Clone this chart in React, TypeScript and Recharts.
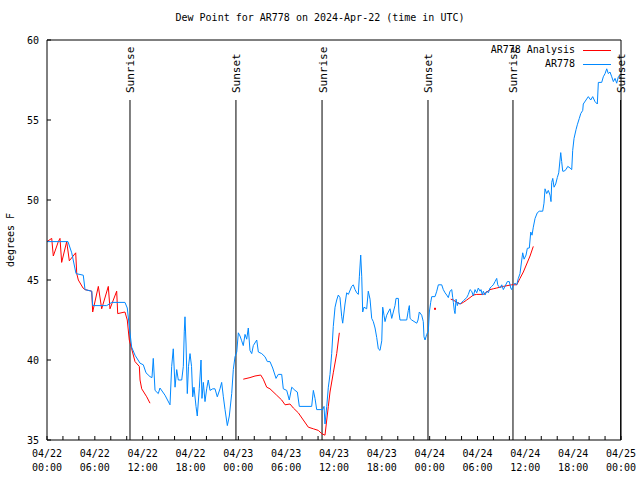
import { LineChart, Line, XAxis, YAxis, ReferenceLine } from 'recharts';

// hours since 04/22 00:00 UTC
const obsHours = [
  0, 2.63, 3.1, 3.64, 4.55, 4.77, 5.61, 5.73, 7.49, 8.12,
  9.78, 10.07, 10.41, 10.62, 11.04, 11.67, 12.08, 12.42, 12.92, 13.17,
  13.33, 13.55, 13.96, 14.17, 14.8, 15.43, 15.64, 15.84, 16.06, 16.27,
  16.47, 16.9, 17.1, 17.22, 17.31, 17.44, 17.6, 17.75, 17.94, 18.13,
  18.28, 18.44, 18.69, 18.85, 19.1, 19.32, 19.44, 19.61, 19.82, 20.03,
  20.23, 20.45, 20.79, 21.07, 21.36, 21.7, 21.91, 22.12, 22.33, 22.62,
  22.87, 23.17, 23.37, 23.58, 23.8, 24.0, 24.21, 24.42, 24.62, 24.84,
  25.05, 25.25, 25.46, 25.68, 25.88, 26.31, 26.51, 26.93, 27.35, 27.64,
  27.97, 28.31, 28.73, 29.01, 29.44, 29.64, 30.07, 30.39, 30.7, 31.11,
  31.4, 31.65, 33.2, 33.41, 33.62, 33.83, 34.58, 34.75, 34.87, 35.09,
  35.29, 35.5, 35.71, 35.91, 36.13, 36.34, 36.54, 36.75, 36.97, 37.09,
  37.38, 37.59, 37.8, 38.22, 38.42, 38.64, 38.85, 39.05, 39.18, 39.35,
  39.48, 39.6, 39.76, 40.1, 40.3, 40.52, 40.73, 40.93, 41.15, 41.36,
  41.56, 41.77, 41.99, 42.11, 42.27, 42.4, 42.61, 42.81, 43.03, 43.24,
  43.44, 43.65, 43.78, 44.07, 44.14, 44.28, 45.12, 45.32, 45.45, 45.54,
  45.75, 46.38, 46.54, 46.7, 47.0, 47.2, 47.29, 47.42, 47.63, 47.83,
  47.96, 48.13, 48.26, 48.67, 48.89, 49.09, 49.51, 49.71, 49.93, 50.14,
  50.34, 50.55, 50.77, 50.89, 50.97, 51.09, 51.18, 51.31, 51.47, 51.59,
  51.81, 52.02, 52.22, 52.65, 52.85, 53.06, 53.27, 53.48, 53.69, 53.9,
  54.1, 54.32, 54.44, 54.61, 54.73, 54.94, 55.16, 55.36, 55.57, 55.78,
  55.98, 56.2, 56.41, 56.54, 56.66, 56.82, 57.04, 57.24, 57.45, 57.74,
  57.99, 58.17, 58.29, 58.5, 58.71, 58.92, 59.12, 59.33, 59.55, 59.67,
  59.84, 60.09, 60.25, 60.5, 60.68, 60.84, 61.0, 61.22, 61.5, 61.75,
  62.18, 62.34, 62.47, 62.68, 62.88, 63.1, 63.22, 63.31, 63.44, 63.6,
  63.81, 64.01, 64.19, 64.35, 64.44, 64.56, 64.69, 64.85, 65.1, 65.32,
  65.61, 65.82, 65.94, 66.11, 66.36, 66.52, 66.77, 66.95, 67.2, 67.27,
  67.61, 67.9, 68.2, 68.45, 68.74, 69.03, 69.16, 69.58, 69.78, 70.0,
  70.21, 70.41, 70.62, 70.84, 71.04, 71.25, 71.46, 71.67, 71.88,
];

const obsDew = [
  47.4, 47.4, 46.7, 45.4, 45.3, 44.4, 44.3, 43.4, 43.4, 43.6,
  43.6, 43.25, 41.7, 40.8, 40.3, 39.8, 39.7, 39.2, 38.96, 38.9,
  40.1, 38.1, 37.9, 38.25, 37.8, 37.2, 39.6, 40.7, 38.3, 39.4,
  38.75, 38.75, 39.6, 41.8, 42.7, 41.0, 37.9, 39.6, 40.4, 39.6,
  37.7, 38.3, 37.1, 36.5, 38.2, 40.0, 37.6, 38.6, 37.4, 38.2,
  38.75, 38.1, 38.2, 38.2, 37.7, 38.2, 38.6, 37.7, 36.9, 35.9,
  36.5, 37.9, 39.4, 40.2, 40.5, 41.7, 41.5, 41.2, 40.9, 41.6,
  41.3, 42.0, 40.6, 40.4, 40.9, 41.25, 40.5, 40.4, 40.2, 39.9,
  39.9, 39.5, 38.85, 39.1, 39.1, 38.2, 38.1, 37.5, 38.3, 38.1,
  38.0, 37.1, 37.1, 38.1, 37.6, 36.9, 36.9, 37.1, 36.0, 37.1,
  38.3, 39.1, 40.4, 42.1, 43.3, 43.75, 44.06, 43.9, 42.7, 42.3,
  43.5, 44.2, 44.1, 44.6, 44.7, 44.4, 44.2, 44.1, 45.2, 46.56,
  45.2, 43.0, 43.3, 43.2, 44.3, 43.8, 42.6, 42.4, 42.0, 41.4,
  40.7, 40.6, 41.2, 43.3, 42.8, 42.4, 42.8, 43.0, 43.2, 42.6,
  43.0, 43.4, 43.85, 43.85, 43.0, 42.5, 42.5, 43.1, 43.4, 42.6,
  42.5, 42.3, 42.5, 43.0, 42.8, 42.4, 41.45, 41.25, 41.6, 41.8,
  43.0, 43.6, 43.96, 43.96, 44.3, 44.7, 44.7, 44.4, 44.2, 44.06,
  43.9, 44.3, 44.4, 43.9, 43.6, 43.1, 42.9, 43.8, 43.4, 43.6,
  43.5, 43.6, 43.7, 43.9, 44.1, 44.4, 44.3, 44.0, 44.4, 44.2,
  44.5, 44.3, 44.4, 44.06, 44.3, 44.06, 44.3, 44.2, 44.5, 44.6,
  44.7, 44.9, 45.1, 44.7, 44.6, 44.5, 44.7, 44.4, 44.6, 44.9,
  44.9, 44.5, 44.4, 44.7, 44.8, 44.7, 45.1, 45.4, 46.25, 46.7,
  46.3, 46.56, 46.98, 47.0, 48.0, 47.8, 48.3, 48.85, 49.2, 49.3,
  49.3, 49.8, 50.7, 50.4, 50.6, 50.3, 49.9, 51.1, 51.35, 50.8,
  51.0, 51.4, 51.7, 52.5, 52.96, 52.4, 51.8, 51.8, 51.9, 52.1,
  52.0, 51.9, 53.1, 53.85, 54.4, 54.7, 55.1, 55.4, 55.6, 56.0,
  56.25, 56.46, 56.25, 56.46, 56.15, 56.0, 57.35, 57.35, 57.7, 57.9,
  58.2, 57.9, 58.0, 57.7, 57.4, 57.6, 57.3, 57.7, 57.8,
];

// analysis runs, null = gap
const anaHours = [
  0, 0.59, 0.79, 1.42, 1.63, 1.84, 2.47, 2.8, 3.6, 3.73,
  3.93, 4.52, 4.77, 5.61, 5.73, 6.44, 6.86, 7.69, 7.9, 8.74,
  8.87, 9.78, 10.07, 10.32, 10.62, 11.04, 11.58, 11.67, 11.88, 12.51, 12.92,
  18,
  24.62, 25.46, 26.09, 26.81, 27.13, 27.56, 27.97, 28.81, 29.44, 29.86,
  30.48, 30.9, 31.52, 32.15, 32.78, 33.41, 34.03, 34.46, 34.87, 35.09,
  35.29, 35.5, 35.91, 36.34, 36.67,
  42,
  48.67,
  49.5,
  50.64, 50.97, 51.39, 51.81, 52.22, 52.65, 53.06, 53.48, 53.9, 54.73,
  55.16, 55.57, 55.98, 56.41, 57.24, 58.29, 58.92, 59.33, 59.75, 60.17,
  60.59, 61.0,
];

const anaDew = [
  47.4, 47.6, 46.5, 47.4, 47.6, 46.1, 47.4, 46.2, 46.7, 45.4,
  45.0, 44.5, 44.4, 44.3, 43.0, 44.6, 43.2, 44.6, 43.2, 44.3,
  42.9, 43.0, 42.5, 41.25, 40.7, 39.9, 39.6, 38.75, 38.2, 37.7, 37.3,
  null,
  38.8, 38.9, 39.0, 39.06, 38.8, 38.3, 38.2, 37.8, 37.5, 37.2,
  37.25, 37.0, 36.7, 36.25, 35.8, 35.7, 35.6, 35.4, 35.3, 36.25,
  37.1, 38.0, 39.2, 40.4, 41.7,
  null,
  43.2,
  null,
  43.8, 43.75, 43.6, 43.5, 43.6, 43.75, 43.9, 44.06, 44.1, 44.1,
  44.25, 44.4, 44.45, 44.5, 44.6, 44.7, 44.7, 45.1, 45.5, 46.0,
  46.5, 47.1,
];

const sunHours = [10.41, 23.7, 34.5, 47.79, 58.45, 71.95];
const sunLabels = ['Sunrise', 'Sunset', 'Sunrise', 'Sunset', 'Sunrise', 'Sunset'];

const minorHours = [
  0, 2, 4, 6, 8, 10, 12, 14, 16, 18, 20, 22, 24, 26, 28, 30, 32, 34, 36,
  38, 40, 42, 44, 46, 48, 50, 52, 54, 56, 58, 60, 62, 64, 66, 68, 70, 72,
];
const labelHours = [0, 6, 12, 18, 24, 30, 36, 42, 48, 54, 60, 66, 72];
const labelDates = ['04/22', '04/22', '04/22', '04/22', '04/23', '04/23', '04/23', '04/23', '04/24', '04/24', '04/24', '04/24', '04/25'];
const labelTimes = ['00:00', '06:00', '12:00', '18:00', '00:00', '06:00', '12:00', '18:00', '00:00', '06:00', '12:00', '18:00', '00:00'];
const dewTicks = [35, 40, 45, 50, 55, 60];

const seriesNames = ['AR778 Analysis', 'AR778'];
const RED = '#ff0000';
const BLUE = '#0088ff';
const FONT = '"DejaVu Sans Mono", monospace';

const obsData = obsHours.map((h, i) => ({ h, v: obsDew[i] }));
const anaData = anaHours.map((h, i) => ({ h, v: anaDew[i] }));

const BottomTick = ({ x, y, payload }: any) => {
  const i = labelHours.indexOf(payload.value);
  return (
    <g>
      <line x1={x} x2={x} y1={y} y2={y - 4} stroke="#000" />
      {i >= 0 && (
        <text x={x} textAnchor="middle" fontFamily={FONT} fontSize={10} fill="#000">
          <tspan x={x} y={y + 17}>{labelDates[i]}</tspan>
          <tspan x={x} y={y + 31}>{labelTimes[i]}</tspan>
        </text>
      )}
    </g>
  );
};

const TopTick = ({ x, y }: any) => <line x1={x} x2={x} y1={y} y2={y + 4} stroke="#000" />;

const LeftTick = ({ x, y, payload }: any) => (
  <g>
    <line x1={x} x2={x + 4} y1={y} y2={y} stroke="#000" />
    <text x={x - 8} y={y + 4} textAnchor="end" fontFamily={FONT} fontSize={10} fill="#000">
      {payload.value}
    </text>
  </g>
);

const RightTick = ({ x, y }: any) => <line x1={x} x2={x - 4} y1={y} y2={y} stroke="#000" />;

const sunShape = (label: string) => (p: any) => {
  const top = Math.min(p.y1, p.y2);
  const bottom = Math.max(p.y1, p.y2);
  return (
    <g>
      <line x1={p.x1} x2={p.x2} y1={top + 60} y2={bottom} stroke="#000" />
      <text
        transform={`translate(${p.x1 + 1},${top + 53}) rotate(-90)`}
        dominantBaseline="central"
        fontFamily={FONT}
        fontSize={11}
        fill="#000"
      >
        {label}
      </text>
    </g>
  );
};

// lone analysis values get a pixel, runs are drawn as lines
const loneDot = (p: any) => {
  const i = p.index;
  const alone = anaDew[i] != null && anaDew[i - 1] == null && anaDew[i + 1] == null;
  if (!alone) return <g key={i} />;
  return <rect key={i} x={p.cx - 1} y={p.cy - 1} width={2} height={2} fill={RED} />;
};

export default function App() {
  return (
    <div style={{ position: 'absolute', left: 0, top: 0, width: 640, height: 480, background: '#fff', fontFamily: FONT }}>
      <div style={{ position: 'absolute', left: 0, width: 640, top: 12, textAlign: 'center', fontSize: 10 }}>
        Dew Point for AR778 on 2024-Apr-22 (time in UTC)
      </div>
      <div
        style={{
          position: 'absolute', left: 10, top: 240, fontSize: 10, whiteSpace: 'nowrap',
          transform: 'translate(-50%, -50%) rotate(-90deg)',
        }}
      >
        degrees F
      </div>
      <LineChart width={640} height={480} margin={{ top: 39, right: 18, bottom: 39, left: 46 }}>
        <XAxis
          dataKey="h" type="number" domain={[0, 72]} ticks={minorHours} interval={0}
          height={1} tickSize={0} tickMargin={0} tickLine={false}
          axisLine={{ stroke: '#000' }} tick={<BottomTick />}
        />
        <XAxis
          xAxisId="top" orientation="top" type="number" domain={[0, 72]} ticks={minorHours} interval={0}
          height={1} tickSize={0} tickMargin={0} tickLine={false}
          axisLine={{ stroke: '#000' }} tick={<TopTick />}
        />
        <YAxis
          type="number" domain={[35, 60]} ticks={dewTicks} interval={0}
          width={1} tickSize={0} tickMargin={0} tickLine={false}
          axisLine={{ stroke: '#000' }} tick={<LeftTick />}
        />
        <YAxis
          yAxisId="right" orientation="right" type="number" domain={[35, 60]} ticks={dewTicks} interval={0}
          width={1} tickSize={0} tickMargin={0} tickLine={false}
          axisLine={{ stroke: '#000' }} tick={<RightTick />}
        />
        {sunHours.map((h, i) => (
          <ReferenceLine key={i} x={h} shape={sunShape(sunLabels[i])} />
        ))}
        <Line
          data={anaData} dataKey="v" name={seriesNames[0]} type="linear" stroke={RED} strokeWidth={1}
          dot={loneDot} activeDot={false} isAnimationActive={false}
        />
        <Line
          data={obsData} dataKey="v" name={seriesNames[1]} type="linear" stroke={BLUE} strokeWidth={1}
          dot={false} activeDot={false} isAnimationActive={false}
        />
      </LineChart>
      {seriesNames.map((name, i) => (
        <div
          key={name}
          style={{ position: 'absolute', top: 43 + i * 14, left: 400, width: 211, height: 14, display: 'flex', alignItems: 'center', justifyContent: 'flex-end', fontSize: 10 }}
        >
          <span style={{ marginRight: 8, lineHeight: '14px' }}>{name}</span>
          <span style={{ width: 28, height: 1, background: i === 0 ? RED : BLUE }} />
        </div>
      ))}
    </div>
  );
}
